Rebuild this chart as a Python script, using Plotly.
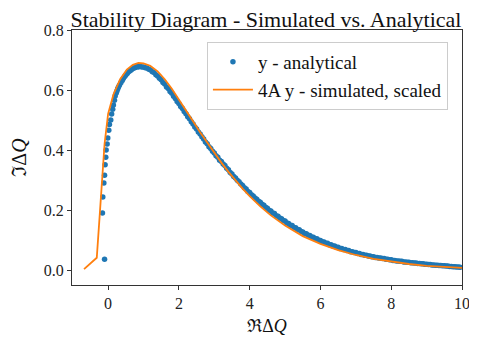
import plotly.graph_objects as go

# Blue dots: analytical
ana_x = [-0.10, -0.16, -0.15, -0.12, -0.10, -0.085, -0.066, -0.056, -0.028, -0.009, 0.019, 0.038,
         0.075, 0.10, 0.13, 0.15, 0.18, 0.20, 0.23, 0.25, 0.27, 0.29, 0.32, 0.36, 0.40, 0.43, 0.47,
         0.50, 0.54, 0.57, 0.61, 0.65, 0.69, 0.73, 0.77, 0.81, 0.85, 0.90, 0.95, 1.00, 1.05,
         1.10, 1.15, 1.20, 1.25, 1.30, 1.35, 1.40, 1.45, 1.50, 1.55, 1.60, 1.65, 1.70, 1.75,
         1.80, 1.85, 1.90, 1.95, 2.00, 2.05, 2.10, 2.15, 2.20, 2.25, 2.30, 2.35, 2.40, 2.45,
         2.50, 2.55, 2.60, 2.65, 2.70, 2.75, 2.80, 2.85, 2.90, 2.95, 3.00, 3.05, 3.10, 3.15,
         3.20, 3.25, 3.30, 3.35, 3.40, 3.45, 3.50, 3.55, 3.60, 3.65, 3.70, 3.75, 3.80, 3.85,
         3.90, 3.95, 4.00, 4.05, 4.10, 4.15, 4.20, 4.25, 4.30, 4.35, 4.40, 4.45, 4.50, 4.55,
         4.60, 4.65, 4.70, 4.75, 4.80, 4.85, 4.90, 4.95, 5.00, 5.05, 5.10, 5.15, 5.20, 5.25,
         5.30, 5.35, 5.40, 5.45, 5.50, 5.55, 5.60, 5.65, 5.70, 5.75, 5.80, 5.85, 5.90, 5.95,
         6.00, 6.05, 6.10, 6.15, 6.20, 6.25, 6.30, 6.35, 6.40, 6.45, 6.50, 6.55, 6.60, 6.65,
         6.70, 6.75, 6.80, 6.85, 6.90, 6.95, 7.00, 7.05, 7.10, 7.15, 7.20, 7.25, 7.30, 7.35,
         7.40, 7.45, 7.50, 7.55, 7.60, 7.65, 7.70, 7.75, 7.80, 7.85, 7.90, 7.95, 8.00, 8.05,
         8.10, 8.15, 8.20, 8.25, 8.30, 8.35, 8.40, 8.45, 8.50, 8.55, 8.60, 8.65, 8.70, 8.75,
         8.80, 8.85, 8.90, 8.95, 9.00, 9.05, 9.10, 9.15, 9.20, 9.25, 9.30, 9.35, 9.40, 9.45,
         9.50, 9.55, 9.60, 9.65, 9.70, 9.75, 9.80, 9.85, 9.90, 9.95]
ana_y = [0.036, 0.190, 0.243, 0.290, 0.316, 0.351, 0.376, 0.400, 0.420, 0.440, 0.466, 0.485,
         0.500, 0.520, 0.536, 0.550, 0.566, 0.580, 0.590, 0.597, 0.603, 0.609, 0.616, 0.624, 0.632, 0.638, 0.645,
         0.650, 0.655, 0.660, 0.663, 0.667, 0.671, 0.673, 0.675, 0.678, 0.677, 0.679, 0.677, 0.677, 0.674,
         0.673, 0.669, 0.667, 0.661, 0.658, 0.651, 0.647, 0.639, 0.634, 0.625, 0.620, 0.610, 0.605, 0.595,
         0.589, 0.579, 0.572, 0.562, 0.555, 0.545, 0.538, 0.528, 0.521, 0.511, 0.504, 0.494, 0.487, 0.477,
         0.470, 0.460, 0.453, 0.444, 0.437, 0.427, 0.421, 0.411, 0.405, 0.396, 0.390, 0.381, 0.376, 0.366,
         0.362, 0.353, 0.348, 0.339, 0.334, 0.325, 0.320, 0.312, 0.307, 0.299, 0.294, 0.287, 0.282, 0.274,
         0.270, 0.262, 0.258, 0.251, 0.247, 0.240, 0.236, 0.229, 0.226, 0.219, 0.216, 0.209, 0.206, 0.199,
         0.197, 0.190, 0.188, 0.181, 0.179, 0.173, 0.171, 0.165, 0.163, 0.157, 0.155, 0.149, 0.148, 0.142,
         0.141, 0.135, 0.134, 0.128, 0.127, 0.122, 0.121, 0.116, 0.115, 0.110, 0.109, 0.104, 0.104, 0.099,
         0.098, 0.094, 0.093, 0.089, 0.089, 0.084, 0.084, 0.080, 0.080, 0.076, 0.076, 0.072, 0.072, 0.068,
         0.068, 0.065, 0.065, 0.061, 0.061, 0.058, 0.058, 0.055, 0.055, 0.052, 0.052, 0.049, 0.049, 0.047,
         0.047, 0.044, 0.044, 0.042, 0.042, 0.040, 0.040, 0.038, 0.038, 0.036, 0.036, 0.034, 0.034, 0.032,
         0.032, 0.030, 0.030, 0.029, 0.029, 0.027, 0.027, 0.026, 0.026, 0.024, 0.024, 0.023, 0.023, 0.022,
         0.022, 0.021, 0.021, 0.019, 0.019, 0.018, 0.018, 0.017, 0.017, 0.016, 0.016, 0.015, 0.015, 0.014,
         0.014, 0.013, 0.013, 0.012, 0.012, 0.011, 0.011, 0.010, 0.010, 0.009]

# Orange line: simulated, scaled
sim_x = [-0.68, -0.32, -0.23, -0.16, -0.10, 0.0, 0.15, 0.34, 0.53, 0.70, 0.86, 1.0, 1.19, 1.4, 1.6,
         1.8, 2.0, 2.2, 2.4, 2.6, 2.8, 3.0, 3.2, 3.4, 3.6, 3.8, 4.0, 4.3, 4.6, 5.0, 5.5, 6.0, 6.5,
         7.0, 7.5, 8.0, 8.5, 9.0, 9.5, 10.0]
sim_y = [0.003, 0.041, 0.195, 0.320, 0.420, 0.520, 0.585, 0.636, 0.668, 0.684, 0.690, 0.689, 0.681, 0.662, 0.636,
         0.604, 0.569, 0.533, 0.496, 0.459, 0.424, 0.390, 0.358, 0.327, 0.298, 0.271, 0.246, 0.212, 0.182, 0.148, 0.113, 0.087, 0.066,
         0.050, 0.037, 0.028, 0.020, 0.014, 0.010, 0.007]

x_ticks = [0, 2, 4, 6, 8, 10]
y_ticks = [0.0, 0.2, 0.4, 0.6, 0.8]

serif = "Liberation Serif"

fig = go.Figure()
fig.add_trace(go.Scatter(x=ana_x, y=ana_y, mode="markers", name="y - analytical",
                         marker=dict(color="#1f77b4", size=5.5, line=dict(width=0))))
fig.add_trace(go.Scatter(x=sim_x, y=sim_y, mode="lines", name="4A y - simulated, scaled",
                         line=dict(color="#ff7f0e", width=1.8)))

axis_common = dict(showline=True, linecolor="#333333", linewidth=1, mirror=True,
                   ticks="outside", ticklen=4, tickcolor="#333333", showgrid=False,
                   zeroline=False, automargin=False,
                   tickfont=dict(family=serif, size=16, color="#222222"))

fig.update_layout(
    width=469, height=331,
    margin=dict(l=64, r=15, t=22, b=54),
    paper_bgcolor="white", plot_bgcolor="white",
    font=dict(family=serif, color="#111111"),
    title=dict(text="Stability Diagram - Simulated vs. Analytical", x=0.55, xanchor="center",
               y=0.966, yanchor="middle", font=dict(family=serif, size=22, color="#111111")),
    xaxis=dict(range=[-1.02, 10], tickvals=x_ticks, ticktext=[str(t) for t in x_ticks],
               title=dict(text="ℜΔ<i>Q</i>", font=dict(family=serif, size=18, color="#111111"), standoff=8),
               **axis_common),
    yaxis=dict(range=[-0.05, 0.8], tickvals=y_ticks, ticktext=[f"{t:.1f}" for t in y_ticks],
               title=dict(text="ℑΔ<i>Q</i>", font=dict(family=serif, size=20, color="#111111"), standoff=12),
               **axis_common),
    legend=dict(x=0.346, y=0.953, xanchor="left", yanchor="top",
                bgcolor="rgba(255,255,255,0.8)", bordercolor="#cccccc", borderwidth=1,
                font=dict(family=serif, size=19, color="#111111"), itemwidth=40,
                tracegroupgap=2),
    showlegend=True,
)

fig.write_html("out.html")
